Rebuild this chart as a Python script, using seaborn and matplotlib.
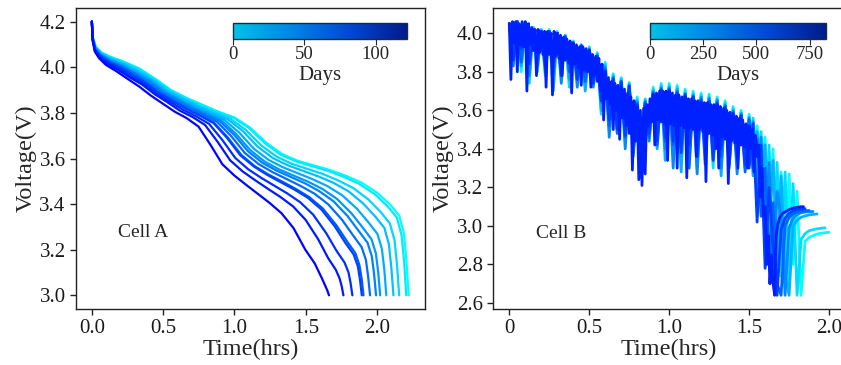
import numpy as np
import pandas as pd
import matplotlib
matplotlib.use("Agg")
import matplotlib.pyplot as plt
import seaborn as sns
from matplotlib.colors import LinearSegmentedColormap, Normalize
from matplotlib.cm import ScalarMappable

# ---------------- Cell A data (discharge curves, one per measurement day) ----------------
cellA_days = [0, 10, 20, 30, 40, 50, 60, 70, 80, 90, 100, 110, 120]
cellA_time = [
    [0, .007, .027, .067, .133, .222, .333, .444, .556, .667, .778, .889, 1.0, 1.111, 1.222, 1.333, 1.444, 1.555, 1.667, 1.778, 1.889, 2.0, 2.089, 2.155, 2.189, 2.206, 2.222],
    [0, .007, .026, .066, .132, .221, .331, .441, .551, .662, .772, .882, .992, 1.103, 1.213, 1.323, 1.433, 1.544, 1.654, 1.764, 1.874, 1.985, 2.073, 2.139, 2.172, 2.190, 2.205],
    [0, .006, .026, .065, .129, .216, .323, .431, .539, .647, .754, .862, .970, 1.078, 1.185, 1.293, 1.401, 1.509, 1.616, 1.724, 1.832, 1.940, 2.026, 2.090, 2.123, 2.140, 2.155],
    [0, .006, .025, .063, .127, .212, .317, .423, .529, .635, .740, .846, .952, 1.058, 1.163, 1.269, 1.375, 1.481, 1.586, 1.692, 1.798, 1.904, 1.988, 2.052, 2.083, 2.100, 2.115],
    [0, .006, .025, .062, .124, .207, .310, .413, .516, .620, .723, .826, .929, 1.033, 1.136, 1.239, 1.342, 1.446, 1.549, 1.652, 1.755, 1.859, 1.941, 2.003, 2.034, 2.051, 2.065],
    [0, .006, .024, .061, .121, .202, .303, .404, .506, .607, .708, .809, .910, 1.011, 1.112, 1.213, 1.314, 1.415, 1.517, 1.618, 1.719, 1.820, 1.901, 1.961, 1.992, 2.008, 2.022],
    [0, .006, .024, .060, .120, .199, .299, .399, .498, .598, .698, .797, .897, .997, 1.096, 1.196, 1.295, 1.395, 1.495, 1.594, 1.694, 1.794, 1.873, 1.933, 1.963, 1.979, 1.993],
    [0, .006, .023, .059, .117, .195, .293, .390, .488, .585, .683, .780, .878, .976, 1.073, 1.171, 1.268, 1.366, 1.463, 1.561, 1.658, 1.756, 1.834, 1.892, 1.922, 1.937, 1.951],
    [0, .006, .023, .057, .114, .191, .286, .381, .476, .572, .667, .762, .857, .953, 1.048, 1.143, 1.238, 1.334, 1.429, 1.524, 1.619, 1.715, 1.791, 1.848, 1.876, 1.892, 1.905],
    [0, .006, .023, .057, .114, .189, .284, .379, .473, .568, .663, .757, .852, .947, 1.041, 1.136, 1.230, 1.325, 1.420, 1.514, 1.609, 1.704, 1.779, 1.836, 1.865, 1.880, 1.893],
    [0, .005, .022, .055, .110, .183, .274, .365, .457, .548, .639, .731, .822, .914, 1.005, 1.096, 1.188, 1.279, 1.370, 1.462, 1.553, 1.644, 1.717, 1.772, 1.800, 1.814, 1.827],
    [0, .005, .021, .053, .106, .176, .265, .353, .441, .529, .617, .706, .794, .882, .970, 1.058, 1.147, 1.235, 1.323, 1.411, 1.499, 1.588, 1.658, 1.711, 1.738, 1.752, 1.764],
    [0, .005, .020, .050, .100, .166, .249, .333, .416, .499, .582, .665, .748, .832, .915, .998, 1.081, 1.164, 1.247, 1.330, 1.414, 1.497, 1.563, 1.613, 1.638, 1.651, 1.663],
]
cellA_voltage = [
    [4.20, 4.13, 4.09, 4.065, 4.045, 4.025, 3.995, 3.95, 3.90, 3.865, 3.835, 3.805, 3.78, 3.735, 3.67, 3.62, 3.59, 3.57, 3.55, 3.525, 3.495, 3.45, 3.40, 3.35, 3.27, 3.149, 3.0],
    [4.20, 4.13, 4.09, 4.064, 4.044, 4.024, 3.993, 3.949, 3.899, 3.864, 3.834, 3.804, 3.779, 3.733, 3.667, 3.617, 3.587, 3.566, 3.546, 3.520, 3.489, 3.443, 3.391, 3.341, 3.263, 3.145, 3.0],
    [4.20, 4.129, 4.088, 4.062, 4.041, 4.020, 3.989, 3.947, 3.898, 3.863, 3.831, 3.802, 3.775, 3.726, 3.659, 3.609, 3.577, 3.555, 3.533, 3.505, 3.471, 3.420, 3.365, 3.315, 3.241, 3.133, 3.0],
    [4.20, 4.128, 4.086, 4.060, 4.038, 4.017, 3.985, 3.945, 3.896, 3.861, 3.829, 3.800, 3.772, 3.721, 3.652, 3.602, 3.570, 3.546, 3.522, 3.494, 3.457, 3.402, 3.345, 3.295, 3.224, 3.123, 3.0],
    [4.20, 4.127, 4.084, 4.058, 4.035, 4.014, 3.981, 3.943, 3.894, 3.859, 3.827, 3.797, 3.769, 3.714, 3.643, 3.594, 3.561, 3.535, 3.509, 3.479, 3.439, 3.380, 3.319, 3.269, 3.203, 3.112, 3.0],
    [4.20, 4.126, 4.083, 4.056, 4.032, 4.011, 3.977, 3.941, 3.893, 3.858, 3.824, 3.795, 3.766, 3.708, 3.636, 3.586, 3.552, 3.525, 3.498, 3.466, 3.423, 3.360, 3.296, 3.246, 3.184, 3.101, 3.0],
    [4.20, 4.126, 4.082, 4.055, 4.031, 4.009, 3.974, 3.940, 3.892, 3.857, 3.823, 3.794, 3.764, 3.704, 3.631, 3.581, 3.547, 3.519, 3.491, 3.457, 3.413, 3.347, 3.281, 3.231, 3.172, 3.095, 3.0],
    [4.20, 4.125, 4.080, 4.053, 4.028, 4.006, 3.973, 3.933, 3.888, 3.853, 3.821, 3.792, 3.761, 3.699, 3.624, 3.575, 3.540, 3.510, 3.480, 3.446, 3.399, 3.330, 3.261, 3.211, 3.155, 3.085, 3.0],
    [4.20, 4.124, 4.079, 4.051, 4.025, 4.002, 3.968, 3.931, 3.887, 3.852, 3.818, 3.789, 3.757, 3.692, 3.616, 3.566, 3.530, 3.499, 3.467, 3.431, 3.381, 3.307, 3.235, 3.185, 3.133, 3.073, 3.0],
    [4.20, 4.124, 4.078, 4.050, 4.024, 4.001, 3.967, 3.930, 3.886, 3.851, 3.817, 3.788, 3.756, 3.691, 3.614, 3.565, 3.528, 3.496, 3.464, 3.428, 3.377, 3.302, 3.229, 3.179, 3.128, 3.070, 3.0],
    [4.20, 4.123, 4.076, 4.047, 4.020, 3.997, 3.961, 3.927, 3.884, 3.849, 3.814, 3.785, 3.752, 3.682, 3.603, 3.553, 3.515, 3.481, 3.447, 3.408, 3.353, 3.272, 3.194, 3.144, 3.100, 3.055, 3.0],
    [4.20, 4.122, 4.074, 4.044, 4.016, 3.992, 3.956, 3.924, 3.882, 3.847, 3.810, 3.782, 3.747, 3.673, 3.592, 3.543, 3.504, 3.467, 3.431, 3.390, 3.331, 3.245, 3.162, 3.112, 3.073, 3.040, 3.0],
    [4.20, 4.12, 4.07, 4.04, 4.01, 3.985, 3.95, 3.915, 3.875, 3.84, 3.805, 3.777, 3.74, 3.66, 3.575, 3.526, 3.485, 3.445, 3.405, 3.36, 3.295, 3.20, 3.14, 3.075, 3.04, 3.022, 3.0],
]

# ---------------- Cell B data (noisy discharge + rest), sampled at a fixed step ----------------
cellB_days = [0, 110, 250, 380, 500, 620, 720]
cellB_step_hrs = [0.025, 0.025, 0.025, 0.025, 0.025, 0.025, 0.01]
cellB_voltage = [
    [4.05, 3.92, 4.06, 3.80, 4.06, 3.90, 4.03, 3.86,
     4.02, 3.86, 4.02, 3.84, 4.01, 3.83, 3.99, 3.80,
     3.96, 3.78, 3.94, 3.76, 3.93, 3.74, 3.90, 3.62,
     3.85, 3.60, 3.79, 3.55, 3.77, 3.52, 3.745, 3.50,
     3.67, 3.40, 3.66, 3.52, 3.72, 3.50, 3.74, 3.48,
     3.74, 3.48, 3.73, 3.46, 3.71, 3.45, 3.70, 3.44,
     3.69, 3.44, 3.685, 3.42, 3.67, 3.40, 3.65, 3.40,
     3.62, 3.38, 3.60, 3.36, 3.58, 3.34, 3.52, 3.30,
     3.46, 3.00, 3.40, 2.80, 3.28, 2.75, 3.27, 2.80,
     3.18, 2.64, 2.92, 2.94, 2.95, 2.958, 2.962, 2.965,
     2.967],
    [4.05, 3.85, 4.06, 3.88, 4.05, 3.74, 4.03, 3.87,
     4.02, 3.78, 4.01, 3.85, 4.00, 3.82, 3.99, 3.72,
     3.955, 3.80, 3.94, 3.77, 3.925, 3.73, 3.895, 3.58,
     3.84, 3.50, 3.785, 3.56, 3.765, 3.47, 3.74, 3.42,
     3.66, 3.30, 3.655, 3.50, 3.71, 3.43, 3.73, 3.47,
     3.73, 3.36, 3.72, 3.44, 3.70, 3.32, 3.69, 3.43,
     3.68, 3.40, 3.675, 3.30, 3.66, 3.38, 3.64, 3.34,
     3.61, 3.36, 3.59, 3.30, 3.38, 3.56, 3.26, 3.49,
     2.96, 3.42, 2.80, 3.33, 2.74, 3.28, 2.70, 3.22,
     2.64, 2.93, 2.96, 2.975, 2.98, 2.985, 2.988, 2.99],
    [4.05, 3.88, 4.06, 3.83, 4.05, 3.86, 4.02, 3.80,
     4.01, 3.84, 4.01, 3.70, 4.00, 3.83, 3.985, 3.76,
     3.95, 3.79, 3.935, 3.70, 3.92, 3.76, 3.89, 3.60,
     3.83, 3.54, 3.775, 3.50, 3.755, 3.44, 3.735, 3.40,
     3.65, 3.28, 3.65, 3.48, 3.70, 3.40, 3.72, 3.34,
     3.72, 3.44, 3.71, 3.28, 3.69, 3.42, 3.68, 3.30,
     3.67, 3.42, 3.665, 3.36, 3.655, 3.26, 3.63, 3.40,
     3.60, 3.32, 3.585, 3.36, 3.565, 3.26, 3.49, 3.20,
     3.42, 2.95, 3.34, 2.80, 3.26, 2.75, 2.64, 3.00,
     3.03, 3.045, 3.052, 3.057, 3.06, 3.062],
    [4.05, 3.83, 4.06, 3.90, 4.05, 3.78, 4.02, 3.88,
     4.01, 3.80, 4.01, 3.86, 4.00, 3.74, 3.985, 3.82,
     3.95, 3.72, 3.935, 3.80, 3.915, 3.72, 3.885, 3.64,
     3.82, 3.46, 3.77, 3.52, 3.75, 3.40, 3.73, 3.36,
     3.64, 3.25, 3.645, 3.44, 3.695, 3.46, 3.715, 3.40,
     3.715, 3.30, 3.70, 3.44, 3.685, 3.36, 3.675, 3.27,
     3.665, 3.38, 3.66, 3.42, 3.65, 3.30, 3.625, 3.36,
     3.595, 3.27, 3.58, 3.34, 3.32, 3.54, 3.12, 3.46,
     2.88, 3.33, 2.72, 3.18, 3.05, 2.64, 2.99, 3.04,
     3.06, 3.068, 3.072, 3.074, 3.075],
    [4.05, 3.90, 4.06, 3.85, 4.05, 3.89, 4.02, 3.83,
     4.01, 3.87, 4.01, 3.80, 4.00, 3.85, 3.98, 3.80,
     3.95, 3.78, 3.935, 3.75, 3.915, 3.78, 3.88, 3.66,
     3.81, 3.52, 3.765, 3.48, 3.75, 3.46, 3.725, 3.38,
     3.635, 3.30, 3.64, 3.46, 3.69, 3.42, 3.71, 3.44,
     3.71, 3.42, 3.695, 3.40, 3.68, 3.30, 3.67, 3.40,
     3.655, 3.32, 3.65, 3.40, 3.64, 3.36, 3.62, 3.30,
     3.59, 3.34, 3.575, 3.28, 3.555, 3.30, 3.45, 3.05,
     3.30, 2.80, 3.12, 2.70, 2.64, 3.00, 3.045, 3.062,
     3.072, 3.077, 3.079, 3.08],
    [4.05, 3.86, 4.06, 3.92, 4.05, 3.84, 4.02, 3.90,
     4.01, 3.83, 4.01, 3.87, 4.00, 3.78, 3.98, 3.84,
     3.95, 3.76, 3.935, 3.80, 3.91, 3.74, 3.88, 3.65,
     3.805, 3.55, 3.76, 3.50, 3.745, 3.47, 3.725, 3.42,
     3.63, 3.34, 3.635, 3.48, 3.685, 3.44, 3.705, 3.46,
     3.705, 3.44, 3.69, 3.38, 3.68, 3.42, 3.67, 3.36,
     3.65, 3.40, 3.645, 3.34, 3.635, 3.40, 3.615, 3.32,
     3.585, 3.36, 3.57, 3.32, 3.30, 3.53, 3.02, 3.42,
     2.78, 3.20, 2.90, 2.64, 2.98, 3.04, 3.065, 3.078,
     3.085, 3.088, 3.09],
    [4.05, 3.76, 4.06, 3.95, 4.06, 3.80, 4.05, 3.94, 4.06, 3.93,
     4.06, 3.70, 4.05, 3.94, 4.03, 3.91, 4.02, 3.78, 4.02, 3.90,
     4.01, 3.89, 4.01, 3.72, 4.01, 3.89, 4.00, 3.68, 4.01, 3.88,
     4.00, 3.87, 3.99, 3.78, 3.98, 3.86, 3.97, 3.85, 3.96, 3.69,
     3.95, 3.84, 3.94, 3.82, 3.93, 3.73, 3.93, 3.81, 3.92, 3.80,
     3.91, 3.72, 3.89, 3.78, 3.88, 3.75, 3.87, 3.70, 3.84, 3.55,
     3.80, 3.66, 3.77, 3.63, 3.75, 3.50, 3.74, 3.60, 3.73, 3.45,
     3.72, 3.56, 3.71, 3.52, 3.69, 3.48, 3.67, 3.29, 3.65, 3.44,
     3.62, 3.24, 3.60, 3.21, 3.61, 3.27, 3.63, 3.52, 3.66, 3.54,
     3.68, 3.42, 3.69, 3.55, 3.70, 3.54, 3.70, 3.53, 3.70, 3.34,
     3.70, 3.53, 3.69, 3.52, 3.68, 3.30, 3.68, 3.52, 3.67, 3.51,
     3.67, 3.25, 3.66, 3.51, 3.66, 3.50, 3.65, 3.36, 3.65, 3.50,
     3.64, 3.49, 3.64, 3.23, 3.64, 3.48, 3.63, 3.47, 3.63, 3.40,
     3.63, 3.30, 3.62, 3.46, 3.61, 3.45, 3.60, 3.22, 3.59, 3.44,
     3.58, 3.43, 3.57, 3.30, 3.56, 3.42, 3.55, 3.41, 3.53, 3.30,
     3.52, 3.40, 3.50, 3.28, 3.47, 3.36, 3.42, 3.15, 3.30, 3.05,
     3.10, 2.80, 2.95, 2.70, 2.85, 2.70, 2.64, 2.95, 3.01, 3.04,
     3.055, 3.065, 3.07, 3.075, 3.08, 3.085, 3.088, 3.09, 3.093, 3.095,
     3.097, 3.098, 3.099, 3.10, 3.10],
]

cellA_day_max = 122
cellB_day_max = 827

# ---------------- long-form tables ----------------
rowsA = []
for d, ts, vs in zip(cellA_days, cellA_time, cellA_voltage):
    for t, v in zip(ts, vs):
        rowsA.append((d, t, v))
dfA = pd.DataFrame(rowsA, columns=["day", "time", "voltage"])

rowsB = []
for d, step, vs in zip(cellB_days, cellB_step_hrs, cellB_voltage):
    ts = np.arange(len(vs)) * step
    for t, v in zip(ts, vs):
        rowsB.append((d, t, v))
dfB = pd.DataFrame(rowsB, columns=["day", "time", "voltage"])

# ---------------- style ----------------
sns.set_style("ticks")
plt.rcParams["font.family"] = ["Liberation Serif", "DejaVu Serif"]
plt.rcParams["axes.linewidth"] = 1.0

line_cmap = LinearSegmentedColormap.from_list("cyan_blue", ["#00ffff", "#0000ff"])
bar_cmap = LinearSegmentedColormap.from_list(
    "bar", ["#00c2e8", "#0085e6", "#0048d4", "#001a8c"])

fig = plt.figure(figsize=(8.41, 3.65), dpi=100)
axA = fig.add_axes([0.0904, 0.1534, 0.4144, 0.8247])
axB = fig.add_axes([0.5866, 0.1534, 0.4182, 0.8247])

sns.lineplot(data=dfA, x="time", y="voltage", hue="day", units="day",
             estimator=None, sort=False, palette=line_cmap,
             hue_norm=(0, cellA_day_max), legend=False, lw=1.6, ax=axA)
sns.lineplot(data=dfB, x="time", y="voltage", hue="day", units="day",
             estimator=None, sort=False, palette=line_cmap,
             hue_norm=(0, cellB_day_max), legend=False, lw=2.0, ax=axB)

# axes A
axA.set_xlim(-0.111, 2.333)
axA.set_ylim(2.94, 4.26)
axA.set_xticks([0, 0.5, 1.0, 1.5, 2.0])
axA.set_xticklabels(["0.0", "0.5", "1.0", "1.5", "2.0"])
axA.set_yticks([3.0, 3.2, 3.4, 3.6, 3.8, 4.0, 4.2])
axA.set_yticklabels(["3.0", "3.2", "3.4", "3.6", "3.8", "4.0", "4.2"])
axA.set_xlabel("Time(hrs)", fontsize=17.5, labelpad=0)
axA.set_ylabel("Voltage(V)", fontsize=17.5, labelpad=2)
axA.text(0.18, 3.275, "Cell A", fontsize=14, va="center", ha="left")

# axes B
axB.set_xlim(-0.1, 2.1)
axB.set_ylim(2.569, 4.131)
axB.set_xticks([0, 0.5, 1.0, 1.5, 2.0])
axB.set_xticklabels(["0", "0.5", "1.0", "1.5", "2.0"])
axB.set_yticks([2.6, 2.8, 3.0, 3.2, 3.4, 3.6, 3.8, 4.0])
axB.set_yticklabels(["2.6", "2.8", "3.0", "3.2", "3.4", "3.6", "3.8", "4.0"])
axB.set_xlabel("Time(hrs)", fontsize=17.5, labelpad=0)
axB.set_ylabel("Voltage(V)", fontsize=17.5, labelpad=2)
axB.text(0.167, 2.96, "Cell B", fontsize=14, va="center", ha="left")

for ax in (axA, axB):
    for s in ax.spines.values():
        s.set_visible(True)
        s.set_color("#222222")
    ax.tick_params(axis="both", labelsize=15, direction="out", length=4.5,
                   width=1.0, colors="#222222", labelcolor="#1a1a1a", pad=3)

# inset colorbars
def add_cbar(ax, rect, vmax, ticks):
    cax = ax.inset_axes(rect)
    sm = ScalarMappable(norm=Normalize(0, vmax), cmap=bar_cmap)
    cb = fig.colorbar(sm, cax=cax, orientation="horizontal")
    cb.set_ticks(ticks)
    cb.ax.tick_params(labelsize=13.5, length=4, width=0.8, pad=1.0)
    cb.outline.set_edgecolor("#14303c")
    cb.outline.set_linewidth(1.0)
    cb.set_label("Days", fontsize=15, labelpad=2)
    return cb

add_cbar(axA, [0.4505, 0.897, 0.4993, 0.053], cellA_day_max, [0, 50, 100])
add_cbar(axB, [0.4455, 0.897, 0.5004, 0.053], cellB_day_max, [0, 250, 500, 750])

fig.savefig("out.png", dpi=100)
